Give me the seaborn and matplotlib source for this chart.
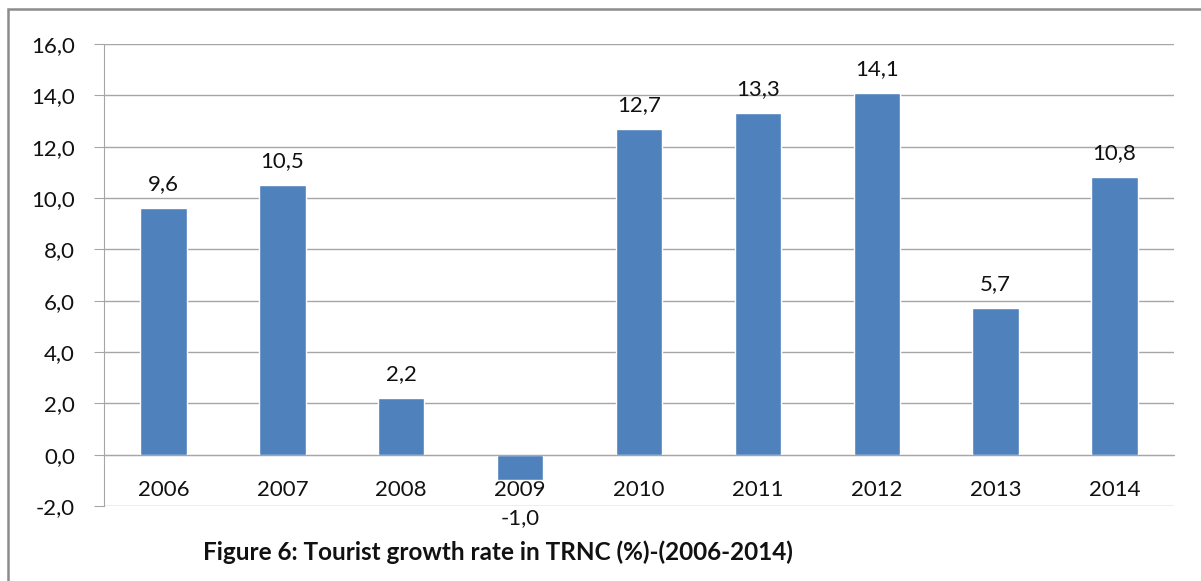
import matplotlib
matplotlib.use("Agg")
import matplotlib.pyplot as plt
import seaborn as sns
import pandas as pd
from matplotlib.patches import Rectangle
from matplotlib.ticker import FixedLocator, FuncFormatter

# Data
years = ["2006", "2007", "2008", "2009", "2010", "2011", "2012", "2013", "2014"]
growth = [9.6, 10.5, 2.2, -1.0, 12.7, 13.3, 14.1, 5.7, 10.8]
y_ticks = [-2, 0, 2, 4, 6, 8, 10, 12, 14, 16]

df = pd.DataFrame({"Year": years, "Growth": growth})

sns.set_style("white")
plt.rcParams['font.family'] = ['Lato', 'DejaVu Sans']

BLUE = "#4F81BD"
GRID = "#A6A6A6"
TXT = "#111111"


def comma(v):
    return f"{v:.1f}".replace(".", ",")


fig = plt.figure(figsize=(12.01, 5.81), dpi=100)
ax = fig.add_axes([104 / 1201, 1 - 506 / 581, (1174 - 104) / 1201, (506 - 44) / 581])

sns.barplot(data=df, x="Year", y="Growth", color=BLUE, saturation=1, width=0.39, ax=ax)

ax.set_ylim(-2, 16)
ax.set_xlim(-0.5, len(years) - 0.5)
ax.set_yticks(y_ticks)
ax.yaxis.set_major_formatter(FuncFormatter(lambda v, p: comma(v)))
ax.yaxis.grid(True, color=GRID, lw=1)
ax.set_axisbelow(True)
ax.set_xlabel("")
ax.set_ylabel("")

# category axis sits on the zero line, ticks at category boundaries
for s in ["top", "right"]:
    ax.spines[s].set_visible(False)
ax.spines["bottom"].set_position(("data", 0))
ax.spines["bottom"].set_color(GRID)
ax.spines["left"].set_color(GRID)
ax.tick_params(axis="x", which="major", length=0, labelsize=16, pad=18, colors=TXT)
ax.xaxis.set_minor_locator(FixedLocator([i + 0.5 for i in range(len(years))]))
ax.tick_params(axis="x", which="minor", length=7, color=GRID, direction="out")
ax.tick_params(axis="y", length=7, color=GRID, labelsize=16, pad=14, colors=TXT, left=True)

bars = ax.containers[0]
pos_labels = [comma(v) if v >= 0 else "" for v in growth]
neg_labels = [comma(v) if v < 0 else "" for v in growth]
ax.bar_label(bars, labels=pos_labels, padding=10, fontsize=16, color=TXT)
ax.bar_label(bars, labels=neg_labels, padding=20, fontsize=16, color=TXT)

fig.text(498 / 1201, 1 - 552 / 581, "Figure 6: Tourist growth rate in TRNC (%)-(2006-2014)",
         ha="center", va="center", fontsize=17.5, fontweight="bold", color="#111111")

# outer frame
fig.add_artist(Rectangle((8 / 1201, -0.1), 1.2, 1 - 9 / 581 + 0.1, transform=fig.transFigure,
                         fill=False, edgecolor="#8c8c8c", lw=1.8))

fig.savefig("out.png", dpi=100)
